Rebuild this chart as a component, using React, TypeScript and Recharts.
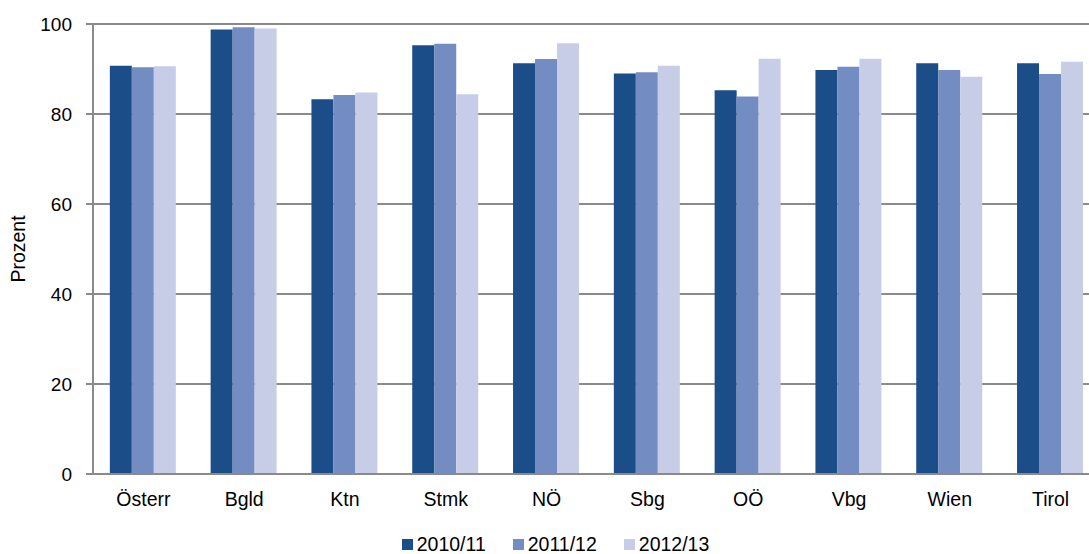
import {
  BarChart,
  Bar,
  XAxis,
  YAxis,
  CartesianGrid,
  Legend,
} from "recharts";

const regions = ["Österr", "Bgld", "Ktn", "Stmk", "NÖ", "Sbg", "OÖ", "Vbg", "Wien", "Tirol"];
const y2010 = [90.7, 98.8, 83.3, 95.3, 91.3, 89.0, 85.3, 89.8, 91.3, 91.3];
const y2011 = [90.4, 99.3, 84.2, 95.6, 92.2, 89.3, 83.9, 90.5, 89.8, 88.9];
const y2012 = [90.6, 99.0, 84.8, 84.4, 95.7, 90.7, 92.3, 92.3, 88.3, 91.6];
const yTicks = [0, 20, 40, 60, 80, 100];

const seriesNames = ["2010/11", "2011/12", "2012/13"];
const colors = ["#1b4d89", "#738dc3", "#c7cde6"];

const data = regions.map((r, i) => ({
  name: r,
  a: y2010[i],
  b: y2011[i],
  c: y2012[i],
}));

const FONT = "'Liberation Sans', Arial, sans-serif";
const AXIS = "#8a8a8a";

function LegendContent() {
  return (
    <div
      style={{
        display: "flex",
        justifyContent: "center",
        paddingLeft: 10,
        marginTop: 10,
        fontFamily: FONT,
        fontSize: 19.5,
        lineHeight: "20px",
        color: "#000",
      }}
    >
      {seriesNames.map((n, i) => (
        <span key={n} style={{ display: "flex", alignItems: "center", marginRight: i < 2 ? 27 : 0 }}>
          <span
            style={{
              display: "inline-block",
              width: 11,
              height: 11,
              background: colors[i],
              marginRight: 4,
            }}
          />
          {n}
        </span>
      ))}
    </div>
  );
}

export default function App() {
  return (
    <div style={{ position: "absolute", left: 0, top: 0, width: 1089, height: 554, overflow: "hidden", background: "#fff" }}>
      <BarChart
        width={1101}
        height={554}
        data={data}
        margin={{ top: 24, right: 0, left: 0, bottom: 0 }}
        barCategoryGap="16.7%"
        barGap={0}
      >
        <CartesianGrid vertical={false} stroke={AXIS} strokeWidth={2} />
        <XAxis
          dataKey="name"
          height={50}
          tickLine={false}
          tickSize={0}
          tickMargin={18}
          axisLine={{ stroke: AXIS, strokeWidth: 2 }}
          tick={{ fontSize: 19.5, fill: "#000", fontFamily: FONT }}
        />
        <YAxis
          width={93}
          domain={[0, 100]}
          ticks={yTicks}
          interval={0}
          tickSize={7}
          tickMargin={14}
          axisLine={{ stroke: AXIS, strokeWidth: 2 }}
          tickLine={{ stroke: AXIS, strokeWidth: 2 }}
          tick={{ fontSize: 19, fill: "#000", fontFamily: FONT }}
          label={({ viewBox }: any) => {
            const cx = viewBox.x + 18;
            const cy = viewBox.y + viewBox.height / 2;
            return (
              <text
                x={cx}
                y={cy}
                transform={`rotate(-90 ${cx} ${cy})`}
                textAnchor="middle"
                dominantBaseline="central"
                fontSize={19.5}
                fontFamily={FONT}
                fill="#000"
              >
                Prozent
              </text>
            );
          }}
        />
        <Legend verticalAlign="bottom" height={30} content={<LegendContent />} />
        <Bar dataKey="a" name={seriesNames[0]} fill={colors[0]} isAnimationActive={false} />
        <Bar dataKey="b" name={seriesNames[1]} fill={colors[1]} isAnimationActive={false} />
        <Bar dataKey="c" name={seriesNames[2]} fill={colors[2]} isAnimationActive={false} />
      </BarChart>
    </div>
  );
}
